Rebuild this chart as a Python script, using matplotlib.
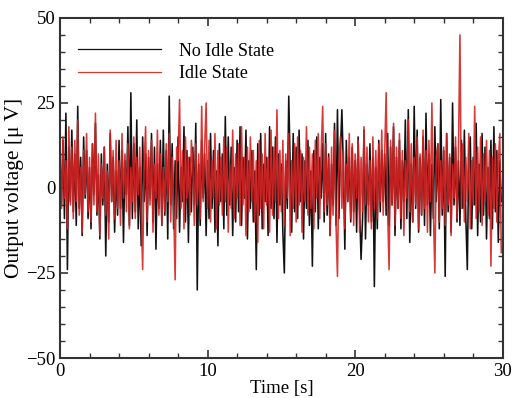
import numpy as np
import matplotlib
matplotlib.use("Agg")
import matplotlib.pyplot as plt
from matplotlib.ticker import MultipleLocator

plt.rcParams['font.family'] = ['Liberation Serif', 'DejaVu Serif']

# sample spacing (s)
dt = 0.1

# No Idle State, 10 samples per second
no_idle = [
    8, -5, 14, -9, 22, -24, 12, -4, 17, -7,
    10, -11, 24, -6, 9, -14, 15, -3, 11, -9,
    6, -12, 13, -2, 19, -8, 4, -15, 10, -5,
    12, -20, 7, -10, 16, -4, 9, -13, 5, -8,
    14, -6, 11, -16, 8, -2, 18, -11, 28, -9,
    13, -7, 20, -12, 6, -17, 15, -4, 10, -14,
    9, -3, 16, -10, 12, -18, 7, -6, 14, -11,
    17, -8, 11, -15, 27, -5, 13, -12, 8, -9,
    15, -13, 6, -4, 18, -10, 11, -16, 9, -7,
    12, -5, 19, -30, 7, -11, 14, -3, 10, -14,
    8, -9, 16, -6, 11, -13, 5, -17, 13, -4,
    10, -12, 21, -8, 15, -5, 12, -14, 6, -10,
    14, -7, 18, -11, 9, -3, 17, -15, 8, -6,
    11, -10, 5, -24, 13, -8, 16, -12, 7, -4,
    9, -14, 18, -6, 12, -9, 15, -16, 10, -5,
    7, -13, -25, 8, -6, 27, 6, -13, 16, -7,
    12, -9, 17, -4, 10, -15, 8, -6, 14, -11,
    5, -23, 11, -7, 15, -12, 9, -3, 13, -10,
    16, -8, 10, -14, 7, -5, 19, -11, 23, -9,
    11, 23, 6, -18, 14, -4, 9, -10, 12, -7,
    8, -13, 15, -6, -21, -9, 17, -15, 7, -5,
    13, -10, 9, -29, 6, -12, 14, -7, 11, -4,
    10, -8, 16, -11, 12, -5, 18, -14, 9, -6,
    14, -12, 8, -4, 20, -9, 23, -16, 7, -10,
    24, -6, 17, -13, 9, -8, 15, -11, 22, -5,
    10, -14, 7, -9, 18, -4, 13, -12, 26, -8,
    11, -26, 16, -7, 9, -13, 25, -5, 12, -10,
    8, -11, 14, -6, 17, -9, -24, 10, 15, -12,
    9, -5, 19, -14, 7, -10, 16, -8, 12, -15,
    6, -9, 14, -12, 18, -7, 11, -16, 8, -4,
]

# Idle State
idle = [
    10, -6, 15, -3, 8, -12, 18, -5, 12, -9,
    14, -4, 20, -8, 6, -13, 11, -2, 16, -7,
    9, -10, 13, -5, 22, -7, 10, -14, 7, -3,
    12, -8, 5, -15, 17, -4, 11, -9, 14, -6,
    8, -11, 16, -3, 10, -7, 13, -12, 6, -4,
    15, -9, 9, -2, 12, -6, -24, 7, 18, -10,
    11, -5, 14, -13, 7, -3, 17, -8, 10, -11,
    6, -7, 13, -4, 16, -10, 9, -5, -27, 12,
    8, 26, -6, 11, -12, 15, -3, 9, -8, 14,
    7, -11, 13, -5, 10, -9, 24, -4, 12, 25,
    -6, 14, -10, 8, -3, 16, -12, 11, -5, 9,
    -8, 15, -4, 12, -13, 7, -6, 17, -9, 10,
    -3, 13, -11, 18, -5, 9, -14, 12, -7, 15,
    -4, 11, -10, 8, -16, 14, -6, 10, -12, 16,
    -5, 9, -13, 17, -8, 12, -4, 23, -9, 11,
    -7, 14, -11, 10, -3, 16, -14, 8, -6, 13,
    -10, 15, -5, 11, -13, 9, -4, 18, -8, 12,
    -6, 10, -12, 14, -3, 16, -9, 11, 24, -7,
    13, -5, 9, -14, 12, -8, 17, -10, -26, 8,
    15, -6, 11, -12, 7, -4, 16, -9, 13, -11,
    10, -3, 14, -13, 9, -7, 18, -5, 12, -10,
    8, -12, 15, -6, 11, -9, 13, -4, 17, -8,
    10, 28, -7, -24, 14, -5, 19, -11, 12, -6,
    16, -9, 11, -14, 8, -3, 20, -7, 13, -10,
    9, -5, 15, -12, 10, -8, 17, -6, 11, -13,
    14, -4, 25, -7, -25, 9, 13, -10, 8, -6,
    12, -11, 16, -5, 10, -14, 7, -3, 15, -9,
    11, 45, -6, 13, -10, 9, -4, 16, -12, 8,
    -5, 24, -9, 12, -7, 15, -11, 10, -4, 14,
    -8, 11, -23, 9, -6, 13, -10, 7, 16, -19,
]

t_black = np.arange(len(no_idle)) * dt
t_red = np.arange(len(idle)) * dt

fig = plt.figure(figsize=(5.13, 3.98), dpi=100)
ax = fig.add_axes([0.117, 0.1005, 0.863, 0.8545])

ax.plot(t_black, no_idle, color='#111111', lw=1.15, label='No Idle State')
ax.plot(t_red, idle, color='#d42222', lw=1.15, alpha=0.9, label='Idle State')

ax.set_xlim(0, 30)
ax.set_ylim(-50, 50)
ax.xaxis.set_major_locator(MultipleLocator(10))
ax.xaxis.set_minor_locator(MultipleLocator(2))
ax.yaxis.set_major_locator(MultipleLocator(25))
ax.yaxis.set_minor_locator(MultipleLocator(5))
ax.tick_params(which='both', direction='in', top=True, right=True,
               labelsize=13.5, color='#333333')
ax.tick_params(which='major', length=6, width=1.2)
ax.tick_params(which='minor', length=3.5, width=1)
for s in ax.spines.values():
    s.set_linewidth(1.5)
    s.set_color('#333333')

ax.set_xlabel('Time [s]', fontsize=13.5, labelpad=0)
ax.set_ylabel('Output voltage [μ V]', fontsize=15.5, labelpad=1)

leg = ax.legend(loc='upper left', bbox_to_anchor=(0.0, 0.98), frameon=False,
                fontsize=13, handlelength=4.6, handletextpad=1.0,
                labelspacing=0.3, borderaxespad=0.6)
for h in leg.legend_handles:
    h.set_linewidth(0.9)

fig.savefig('out.png', dpi=100)
